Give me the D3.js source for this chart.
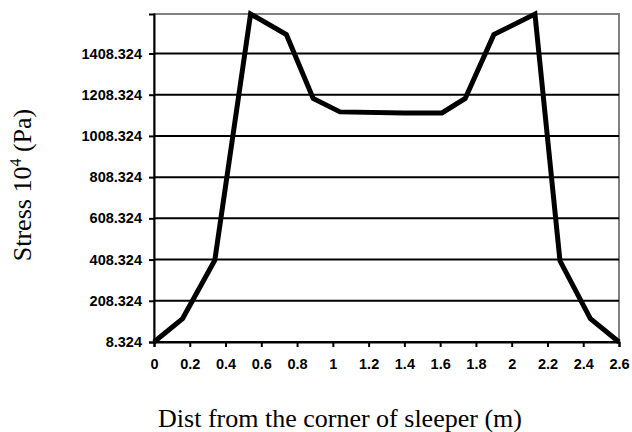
<!DOCTYPE html>
<html>
<head>
<meta charset="utf-8">
<script src="https://cdn.jsdelivr.net/npm/d3@7"></script>
<style>
  body { margin: 0; background: #fff; }
  svg { display: block; }
</style>
</head>
<body>
<svg id="chart"></svg>
<script>
// distance along the sleeper (m) and stress (x10^4 Pa)
const dist   = [0, 0.16, 0.34, 0.54, 0.74, 0.89, 1.04, 1.4, 1.61, 1.74, 1.9, 2.13, 2.27, 2.44, 2.6];
const stress = [8.324, 122, 405, 1600, 1500, 1190, 1125, 1120, 1120, 1190, 1500, 1600, 402, 122, 8.324];
const xTicks = [0, 0.2, 0.4, 0.6, 0.8, 1, 1.2, 1.4, 1.6, 1.8, 2, 2.2, 2.4, 2.6];
const yTicks = [8.324, 208.324, 408.324, 608.324, 808.324, 1008.324, 1208.324, 1408.324];

const width = 632, height = 432;
const margin = {top: 14, right: 13, bottom: 90, left: 154};

const svg = d3.select("#chart").attr("width", width).attr("height", height);

const x = d3.scaleLinear().domain([0, 2.6]).range([margin.left, width - margin.right]);
const y = d3.scaleLinear().domain([8.324, 1600]).range([height - margin.bottom, margin.top]);

// plot border (grey top/right)
svg.append("rect")
  .attr("x", x(0)).attr("y", y(1600))
  .attr("width", x(2.6) - x(0)).attr("height", y(8.324) - y(1600))
  .attr("fill", "none").attr("stroke", "#808080").attr("stroke-width", 2);

// gridlines
svg.append("g").selectAll("line")
  .data(yTicks)
  .enter().append("line")
  .attr("x1", x(0)).attr("x2", x(2.6))
  .attr("y1", d => y(d)).attr("y2", d => y(d))
  .attr("stroke", "#000").attr("stroke-width", 2);

const xAxis = svg.append("g")
  .attr("transform", `translate(0,${y(8.324)})`)
  .call(d3.axisBottom(x).tickValues(xTicks).tickSize(5).tickPadding(12).tickFormat(d3.format("")));

const yAxis = svg.append("g")
  .attr("transform", `translate(${x(0)},0)`)
  .call(d3.axisLeft(y).tickValues(yTicks).tickSize(5).tickPadding(7).tickFormat(d => d.toFixed(3)));

[xAxis, yAxis].forEach(g => {
  g.select(".domain").attr("stroke", "#000").attr("stroke-width", 2);
  g.selectAll(".tick line").attr("stroke", "#000").attr("stroke-width", 2);
  g.selectAll("text")
    .attr("fill", "#000")
    .style("font-family", "Arial, 'Liberation Sans', sans-serif")
    .style("font-size", "14.5px")
    .style("font-weight", "bold");
});

// stress curve
const line = d3.line().x((d, i) => x(dist[i])).y(d => y(d));
svg.append("path")
  .datum(stress)
  .attr("d", line)
  .attr("fill", "none")
  .attr("stroke", "#000")
  .attr("stroke-width", 5)
  .attr("stroke-linejoin", "miter");

// axis titles
svg.append("text")
  .attr("x", 340)
  .attr("y", 427)
  .attr("text-anchor", "middle")
  .style("font-family", "'Times New Roman', 'Liberation Serif', serif")
  .style("font-size", "26px")
  .text("Dist from the corner of sleeper (m)");

const yl = svg.append("text")
  .attr("transform", "translate(31,185) rotate(-90)")
  .attr("text-anchor", "middle")
  .style("font-family", "'Times New Roman', 'Liberation Serif', serif")
  .style("font-size", "26px");
yl.append("tspan").text("Stress 10");
yl.append("tspan").attr("dy", -10).style("font-size", "16px").text("4");
yl.append("tspan").attr("dy", 10).text(" (Pa)");
</script>
</body>
</html>
